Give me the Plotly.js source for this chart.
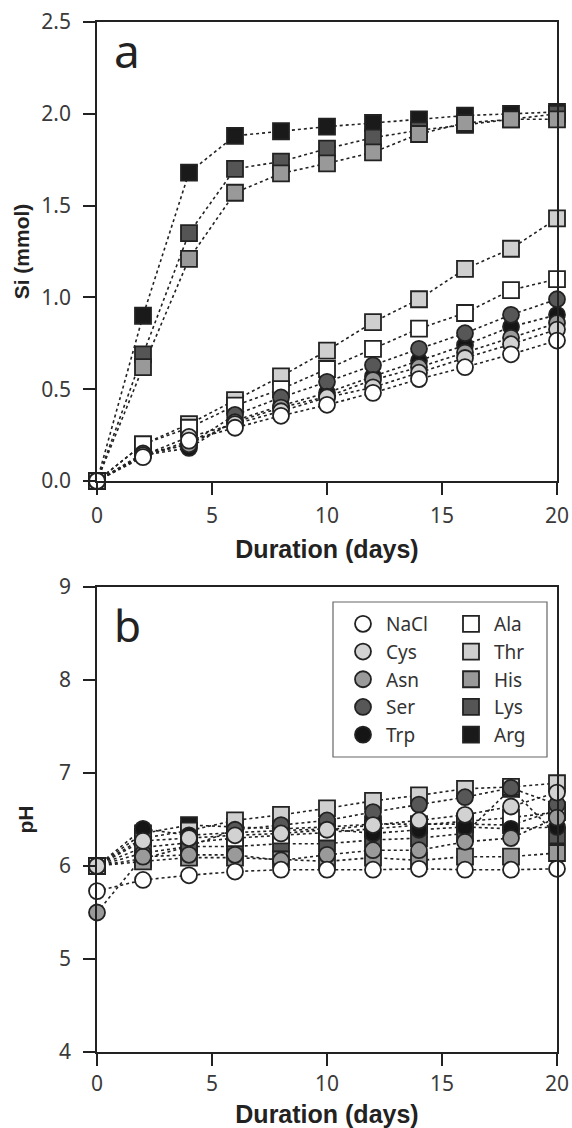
<!DOCTYPE html>
<html>
<head>
<meta charset="utf-8">
<script src="https://cdn.plot.ly/plotly-3.0.1.min.js"></script>
<style>html,body{margin:0;padding:0;background:#fff;}#chart{width:572px;height:1128px;}</style>
</head>
<body>
<div id="chart"></div>
<script>
// Duration (days)
const days = [0, 2, 4, 6, 8, 10, 12, 14, 16, 18, 20];

// Panel a: Si (mmol)
const siNaCl = [0, 0.13, 0.22, 0.29, 0.355, 0.415, 0.48, 0.555, 0.62, 0.69, 0.765];
const siCys  = [0, 0.14, 0.24, 0.31, 0.38, 0.455, 0.51, 0.59, 0.67, 0.745, 0.825];
const siAsn  = [0, 0.14, 0.20, 0.32, 0.40, 0.46, 0.55, 0.62, 0.70, 0.78, 0.86];
const siSer  = [0, 0.15, 0.20, 0.36, 0.455, 0.54, 0.63, 0.72, 0.805, 0.905, 0.99];
const siTrp  = [0, 0.14, 0.18, 0.33, 0.41, 0.48, 0.57, 0.655, 0.74, 0.84, 0.905];
const siAla  = [0, 0.20, 0.29, 0.41, 0.50, 0.61, 0.72, 0.83, 0.915, 1.04, 1.10];
const siThr  = [0, 0.20, 0.31, 0.44, 0.57, 0.71, 0.865, 0.99, 1.155, 1.265, 1.43];
const siHis  = [0, 0.62, 1.21, 1.57, 1.675, 1.73, 1.79, 1.89, 1.95, 1.97, 1.97];
const siLys  = [0, 0.69, 1.35, 1.70, 1.74, 1.81, 1.87, 1.91, 1.94, 1.97, 2.00];
const siArg  = [0, 0.90, 1.68, 1.88, 1.905, 1.93, 1.95, 1.97, 1.99, 2.00, 2.01];

// Panel b: pH
const phNaCl = [5.73, 5.85, 5.90, 5.94, 5.96, 5.96, 5.96, 5.97, 5.96, 5.96, 5.97];
const phCys  = [6.00, 6.27, 6.30, 6.33, 6.35, 6.39, 6.44, 6.49, 6.55, 6.64, 6.79];
const phAsn  = [5.50, 6.10, 6.12, 6.12, 6.06, 6.12, 6.17, 6.17, 6.26, 6.30, 6.52];
const phSer  = [6.00, 6.14, 6.21, 6.39, 6.44, 6.49, 6.58, 6.66, 6.74, 6.84, 6.66];
const phTrp  = [6.00, 6.40, 6.33, 6.36, 6.38, 6.40, 6.35, 6.39, 6.42, 6.40, 6.42];
const phAla  = [6.00, 6.20, 6.25, 6.30, 6.33, 6.36, 6.40, 6.44, 6.48, 6.52, 6.58];
const phThr  = [6.00, 6.30, 6.38, 6.49, 6.55, 6.62, 6.70, 6.76, 6.83, 6.85, 6.89];
const phHis  = [6.00, 6.05, 6.09, 6.09, 6.07, 6.05, 6.09, 6.06, 6.10, 6.10, 6.14];
const phLys  = [6.00, 6.08, 6.21, 6.21, 6.24, 6.24, 6.28, 6.30, 6.35, 6.83, 6.33];
const phArg  = [6.00, 6.35, 6.44, 6.42, 6.40, 6.42, 6.45, 6.45, 6.45, 6.44, 6.60];

// Series definitions (drawing order: squares first, then circles; NaCl on top)
const series = [
  {name:'Arg',  si:siArg,  ph:phArg,  symbol:'square', fill:'#1a1a1a', legend:'legend2', rank:10},
  {name:'Lys',  si:siLys,  ph:phLys,  symbol:'square', fill:'#555555', legend:'legend2', rank:9},
  {name:'His',  si:siHis,  ph:phHis,  symbol:'square', fill:'#999999', legend:'legend2', rank:8},
  {name:'Thr',  si:siThr,  ph:phThr,  symbol:'square', fill:'#cfcfcf', legend:'legend2', rank:7},
  {name:'Ala',  si:siAla,  ph:phAla,  symbol:'square', fill:'#ffffff', legend:'legend2', rank:6},
  {name:'Trp',  si:siTrp,  ph:phTrp,  symbol:'circle', fill:'#151515', legend:'legend',  rank:5},
  {name:'Ser',  si:siSer,  ph:phSer,  symbol:'circle', fill:'#575757', legend:'legend',  rank:4},
  {name:'Asn',  si:siAsn,  ph:phAsn,  symbol:'circle', fill:'#9a9a9a', legend:'legend',  rank:3},
  {name:'Cys',  si:siCys,  ph:phCys,  symbol:'circle', fill:'#d2d2d2', legend:'legend',  rank:2},
  {name:'NaCl', si:siNaCl, ph:phNaCl, symbol:'circle', fill:'#ffffff', legend:'legend',  rank:1}
];

const traces = [];
const lineStyle = {color:'#222', width:1.6, dash:'dot'};
series.forEach(s => {
  traces.push({x:days, y:s.si, xaxis:'x', yaxis:'y', mode:'lines', line:lineStyle, showlegend:false, hoverinfo:'skip', cliponaxis:false});
  traces.push({x:days, y:s.ph, xaxis:'x2', yaxis:'y2', mode:'lines', line:lineStyle, showlegend:false, hoverinfo:'skip', cliponaxis:false});
});
series.forEach(s => {
  const mk = {symbol:s.symbol, size:16, color:s.fill, line:{color:'#222', width:1.8}};
  traces.push({x:days, y:s.si, xaxis:'x', yaxis:'y', mode:'markers', marker:mk, showlegend:false, name:s.name, cliponaxis:false});
  traces.push({x:days, y:s.ph, xaxis:'x2', yaxis:'y2', mode:'markers', marker:mk, showlegend:true, name:s.name, legend:s.legend, legendrank:s.rank, cliponaxis:false});
});

const tickFont = {family:'Noto Sans, sans-serif', size:21, color:'#3a3a3a'};
const xTitleFont = {family:'Liberation Sans, Arial, sans-serif', size:25, color:'#222'};
const yTitleFont = {family:'Liberation Sans, Arial, sans-serif', size:21, color:'#222'};
const axisCommon = {
  showline:true, linecolor:'#222', linewidth:1.8, mirror:true,
  ticks:'outside', ticklen:12, tickwidth:1.8, tickcolor:'#222',
  showgrid:false, zeroline:false, tickfont:tickFont
};

const PL = 97, PT = 22, PB = 76, PR = 15;
const W = 572, H = 1128;
const plotH = H - PT - PB;
const py = px => (H - PB - px) / plotH;       // pixel y -> paper y
const pxX = px => (px - PL) / (W - PL - PR);  // pixel x -> paper x

const legendFont = {family:'Noto Sans, sans-serif', size:19, color:'#333'};

const layout = {
  width: W, height: H,
  margin: {l:PL, r:PR, t:PT, b:PB},
  paper_bgcolor:'#fff', plot_bgcolor:'#fff',
  showlegend: true,
  xaxis: Object.assign({}, axisCommon, {range:[0,20], tickvals:[0,5,10,15,20], anchor:'y', ticklabelstandoff:3,
    title:{text:'<b>Duration (days)</b>', font:xTitleFont, standoff:12}}),
  yaxis: Object.assign({}, axisCommon, {range:[0,2.5], tickvals:[0,0.5,1,1.5,2,2.5], tickformat:'.1f',
    domain:[py(481), 1], anchor:'x', ticklabelstandoff:8,
    title:{text:'<b>Si (mmol)</b>', font:yTitleFont, standoff:6}}),
  xaxis2: Object.assign({}, axisCommon, {range:[0,20], tickvals:[0,5,10,15,20], anchor:'y2', ticklabelstandoff:0,
    title:{text:'<b>Duration (days)</b>', font:xTitleFont, standoff:14}}),
  yaxis2: Object.assign({}, axisCommon, {range:[4,9], tickvals:[4,5,6,7,8,9],
    domain:[0, py(587)], anchor:'x2', ticklabelstandoff:8,
    title:{text:'<b>pH</b>', font:yTitleFont, standoff:20}}),
  legend: {x:pxX(340), y:py(605), xanchor:'left', yanchor:'top', bgcolor:'rgba(0,0,0,0)', borderwidth:0,
    font:legendFont, tracegroupgap:0, itemwidth:36},
  legend2: {x:pxX(448), y:py(605), xanchor:'left', yanchor:'top', bgcolor:'rgba(0,0,0,0)', borderwidth:0,
    font:legendFont, tracegroupgap:0, itemwidth:36},
  shapes: [
    {type:'rect', xref:'paper', yref:'paper', x0:pxX(333), x1:pxX(547), y0:py(757), y1:py(602),
     line:{color:'#666', width:1.2}, fillcolor:'rgba(0,0,0,0)'}
  ],
  annotations: [
    {text:'a', xref:'paper', yref:'paper', x:pxX(127), y:py(50), xanchor:'center', yanchor:'middle',
     showarrow:false, font:{family:'Noto Sans, sans-serif', size:46, color:'#222'}},
    {text:'b', xref:'paper', yref:'paper', x:pxX(127), y:py(625), xanchor:'center', yanchor:'middle',
     showarrow:false, font:{family:'Noto Sans, sans-serif', size:44, color:'#222'}}
  ]
};

Plotly.newPlot('chart', traces, layout, {displayModeBar:false, staticPlot:true});
</script>
</body>
</html>
